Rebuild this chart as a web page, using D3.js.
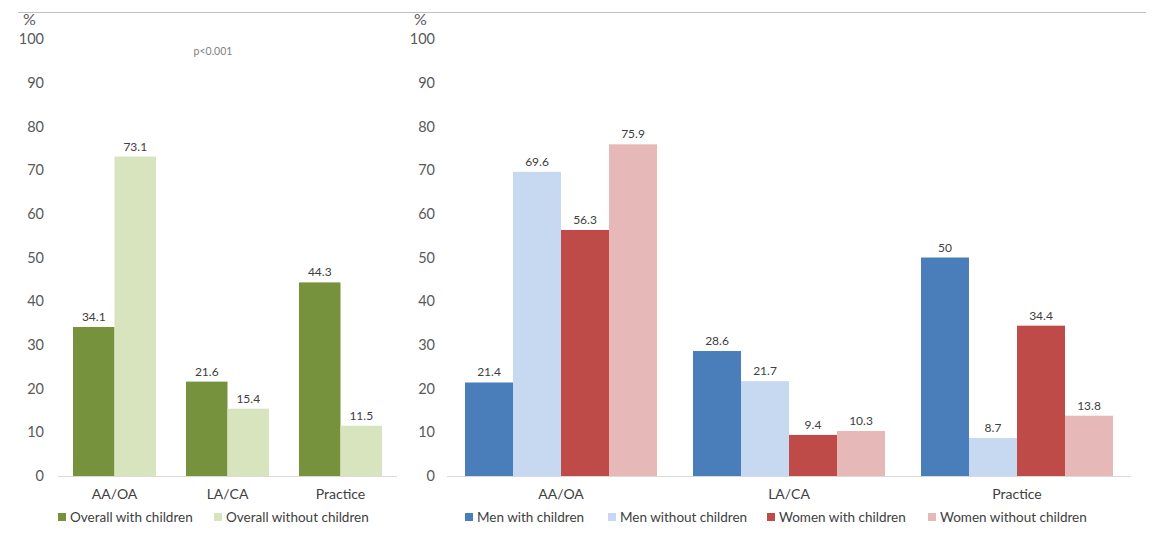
<!DOCTYPE html>
<html><head><meta charset="utf-8">
<script src="https://cdn.jsdelivr.net/npm/d3@7"></script>
<style>
body{margin:0;background:#fff;}
svg{font-family:Lato,"Open Sans",sans-serif;}
</style></head>
<body><svg id="c" width="1154" height="557"></svg>
<script>
const categories = ["AA/OA", "LA/CA", "Practice"];
const overallSeries = ["Overall with children", "Overall without children"];
const overallWith = [34.1, 21.6, 44.3];
const overallWithout = [73.1, 15.4, 11.5];
const genderSeries = ["Men with children", "Men without children", "Women with children", "Women without children"];
const menWith = [21.4, 28.6, 50];
const menWithout = [69.6, 21.7, 8.7];
const womenWith = [56.3, 9.4, 34.4];
const womenWithout = [75.9, 10.3, 13.8];
const yTicks = [0, 10, 20, 30, 40, 50, 60, 70, 80, 90, 100];

const svg = d3.select("#c");
svg.append("line").attr("x1", 18).attr("x2", 1146).attr("y1", 12.5).attr("y2", 12.5)
  .attr("stroke", "#bfbfbf").attr("stroke-width", 1);

function panel(cfg) {
  const y = d3.scaleLinear().domain([0, 100]).range([476, 39]);
  const x = d3.scaleBand().domain(categories).range([cfg.x0, cfg.x1]).padding(0);
  const inner = d3.scaleBand().domain(cfg.series).range([cfg.pad, x.bandwidth() - cfg.pad]).padding(0);
  const g = svg.append("g");

  const ya = g.append("g").attr("transform", `translate(${cfg.yLabelX},0)`)
    .call(d3.axisLeft(y).tickValues(yTicks).tickSize(0).tickPadding(0));
  ya.select(".domain").remove();
  ya.selectAll("text").attr("fill", "#595959").style("font-size", "14.5px").style("font-family", "Lato,sans-serif");

  g.append("text").attr("x", cfg.pctX).attr("y", 25).attr("fill", "#595959")
    .style("font-size", "16px").text("%");

  g.append("line").attr("x1", cfg.x0).attr("x2", cfg.x1).attr("y1", 476.5).attr("y2", 476.5)
    .attr("stroke", "#d9d9d9");

  const rows = categories.map((c, i) => ({ c, vals: cfg.values.map((v, j) => ({ s: cfg.series[j], v: v[i], col: cfg.colors[j] })) }));
  const grp = g.selectAll(".grp").data(rows).join("g").attr("transform", d => `translate(${x(d.c)},0)`);
  grp.selectAll("rect").data(d => d.vals).join("rect")
    .attr("x", d => inner(d.s)).attr("width", inner.bandwidth())
    .attr("y", d => y(d.v)).attr("height", d => y(0) - y(d.v))
    .attr("fill", d => d.col);
  grp.selectAll("text.lab").data(d => d.vals).join("text").attr("class", "lab")
    .attr("x", d => inner(d.s) + inner.bandwidth() / 2).attr("y", d => y(d.v) - 6)
    .attr("text-anchor", "middle").attr("fill", "#404040").style("font-size", "12px")
    .text(d => d.v);

  const xa = g.append("g").attr("transform", "translate(0,476)")
    .call(d3.axisBottom(x).tickSize(0).tickPadding(13));
  xa.select(".domain").remove();
  xa.selectAll("text").attr("fill", "#404040").style("font-size", "14px").style("font-family", "Lato,sans-serif");

  const lg = g.selectAll(".lg").data(cfg.series).join("g").attr("transform", (d, i) => `translate(${cfg.legendX[i]},517)`);
  lg.append("rect").attr("x", 0).attr("y", -4).attr("width", 8).attr("height", 8).attr("fill", (d, i) => cfg.colors[i]);
  lg.append("text").attr("x", 12).attr("y", 5).attr("fill", "#404040").style("font-size", "13.5px").text(d => d);
}

panel({
  x0: 58, x1: 397, pad: 15, series: overallSeries,
  values: [overallWith, overallWithout], colors: ["#76923c", "#d7e4bd"],
  yLabelX: 44, pctX: 23, legendX: [58, 214]
});
panel({
  x0: 447, x1: 1131, pad: 18, series: genderSeries,
  values: [menWith, menWithout, womenWith, womenWithout],
  colors: ["#4a7ebb", "#c6d9f1", "#be4b48", "#e6b9b8"],
  yLabelX: 435, pctX: 414, legendX: [465, 608, 767, 928]
});

svg.append("text").attr("x", 213).attr("y", 55).attr("text-anchor", "middle")
  .attr("fill", "#7f7f7f").style("font-size", "10.5px").text("p<0.001");
</script></body></html>
